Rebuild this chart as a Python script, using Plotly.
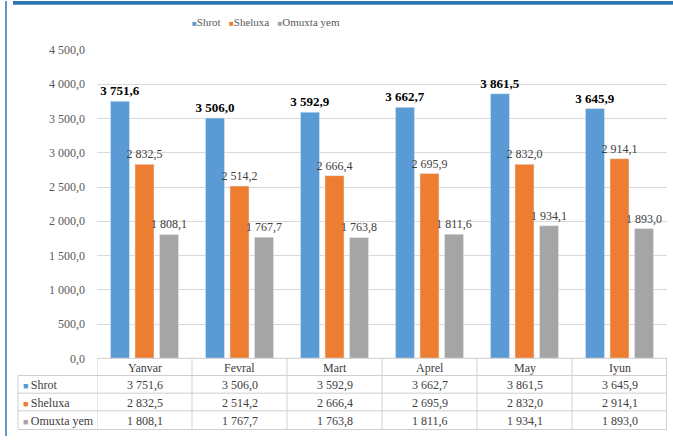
import plotly.graph_objects as go

months = ["Yanvar", "Fevral", "Mart", "Aprel", "May", "Iyun"]
shrot = [3751.6, 3506.0, 3592.9, 3662.7, 3861.5, 3645.9]
sheluxa = [2832.5, 2514.2, 2666.4, 2695.9, 2832.0, 2914.1]
omuxta = [1808.1, 1767.7, 1763.8, 1811.6, 1934.1, 1893.0]
series_names = ["Shrot", "Sheluxa", "Omuxta yem"]
colors = ["#5B9BD5", "#ED7D31", "#A5A5A5"]
y_ticks = [0, 500, 1000, 1500, 2000, 2500, 3000, 3500, 4000, 4500]

W, H = 673, 443
ML, MR, MT, MB = 18, 6, 50, 6
PW = W - ML - MR
PH = H - MT - MB
FONT = "Liberation Serif"
TXT = "#404040"
GRID = "#D9D9D9"
TBL_LINE = "#CFCFCF"


def fmt(v):
    return f"{v:,.1f}".replace(",", " ").replace(".", ",")


def px_x(px):
    return (px - ML) / PW


def px_y(py):
    return (H - MB - py) / PH


fig = go.Figure()
all_series = [shrot, sheluxa, omuxta]
for i, (name, vals, col) in enumerate(zip(series_names, all_series, colors)):
    bold = i == 0
    fig.add_trace(go.Bar(
        x=months, y=vals, name=name, marker_color=col,
        text=[fmt(v) for v in vals],
        texttemplate="<b>%{text}</b>" if bold else "%{text}",
        textposition="outside", constraintext="none",
        textfont=dict(family=FONT, size=13 if bold else 12,
                      color="#000000" if bold else TXT),
        cliponaxis=False, showlegend=False, hoverinfo="skip",
    ))

shapes = []
annotations = []

# ---- data table below the plot (columns follow the x axis categories) ----
header_top, row_lines = 364, [381.5, 399.5, 417.5, 436.5]
row_centers = [391, 409.5, 428]
left_px = 18
shapes.append(dict(type="line", xref="x", yref="paper", x0=-0.5, x1=len(months) - 0.5,
                   y0=px_y(header_top), y1=px_y(header_top),
                   line=dict(color=TBL_LINE, width=1)))
for ry in row_lines:
    shapes.append(dict(type="line", xref="paper", yref="paper", x0=px_x(left_px), x1=1,
                       y0=px_y(ry), y1=px_y(ry), line=dict(color=TBL_LINE, width=1)))
for k in range(len(months) + 1):
    xb = k - 0.5
    if k == len(months):
        xb -= 0.005
    shapes.append(dict(type="line", xref="x", yref="paper", x0=xb, x1=xb,
                       y0=px_y(header_top), y1=px_y(row_lines[-1]),
                       line=dict(color=TBL_LINE, width=1)))
shapes.append(dict(type="line", xref="paper", yref="paper", x0=px_x(left_px), x1=px_x(left_px),
                   y0=px_y(row_lines[0]), y1=px_y(row_lines[-1]),
                   line=dict(color=TBL_LINE, width=1)))

for m in months:
    annotations.append(dict(x=m, y=px_y(373.5), xref="x", yref="paper", text=m,
                            showarrow=False, xanchor="center", yanchor="middle",
                            font=dict(family=FONT, size=12, color=TXT)))
for r, (name, col) in enumerate(zip(series_names, colors)):
    annotations.append(dict(x=px_x(21), y=px_y(row_centers[r]), xref="paper", yref="paper",
                            text=f"<span style='color:{col};font-size:9px'>■</span>&#8201;{name}",
                            showarrow=False, xanchor="left", yanchor="middle",
                            font=dict(family=FONT, size=12, color=TXT)))
    for j, m in enumerate(months):
        annotations.append(dict(x=m, y=px_y(row_centers[r]), xref="x", yref="paper",
                                text=fmt(all_series[r][j]), showarrow=False,
                                xanchor="center", yanchor="middle",
                                font=dict(family=FONT, size=12, color=TXT)))

# legend (top)
legend_txt = "&nbsp;&nbsp;&nbsp;".join(
    f"<span style='color:{c};font-size:8px'>■</span>{n}"
    for n, c in zip(series_names, colors))
annotations.append(dict(x=px_x(266), y=px_y(21), xref="paper", yref="paper", text=legend_txt,
                        showarrow=False, xanchor="center", yanchor="middle",
                        font=dict(family=FONT, size=11, color="#595959")))

# decorative frame
shapes.append(dict(type="rect", xref="paper", yref="paper",
                   x0=px_x(13), x1=px_x(W), y0=px_y(4), y1=px_y(0),
                   fillcolor="#2E75B6", line=dict(width=0), layer="above"))
shapes.append(dict(type="line", xref="paper", yref="paper",
                   x0=px_x(6), x1=px_x(6), y0=px_y(H), y1=px_y(0),
                   line=dict(color="#2E75B6", width=1.5), layer="above"))

fig.update_layout(
    width=W, height=H,
    margin=dict(l=ML, r=MR, t=MT, b=MB),
    paper_bgcolor="white", plot_bgcolor="white",
    separators=", ",
    barmode="group", bargap=0.226, bargroupgap=0.224,
    font=dict(family=FONT, color="#595959"),
    xaxis=dict(domain=[px_x(97), 1], showticklabels=False, showgrid=False,
               zeroline=False, showline=False, ticks="",
               range=[-0.5, len(months) - 0.5]),
    yaxis=dict(domain=[px_y(header_top), 1], range=[0, 4500], tickvals=y_ticks,
               tickformat=",.1f", showgrid=True, gridcolor=GRID,
               gridwidth=1, zeroline=False, showline=False, ticks="",
               ticklabelstandoff=11,
               tickfont=dict(family=FONT, size=12, color="#595959")),
    showlegend=False,
    hovermode=False,
    shapes=shapes,
    annotations=annotations,
)

fig.write_html("out.html", config={"displayModeBar": False},
               post_script="document.body.style.margin='0px';document.body.style.overflow='hidden';")
